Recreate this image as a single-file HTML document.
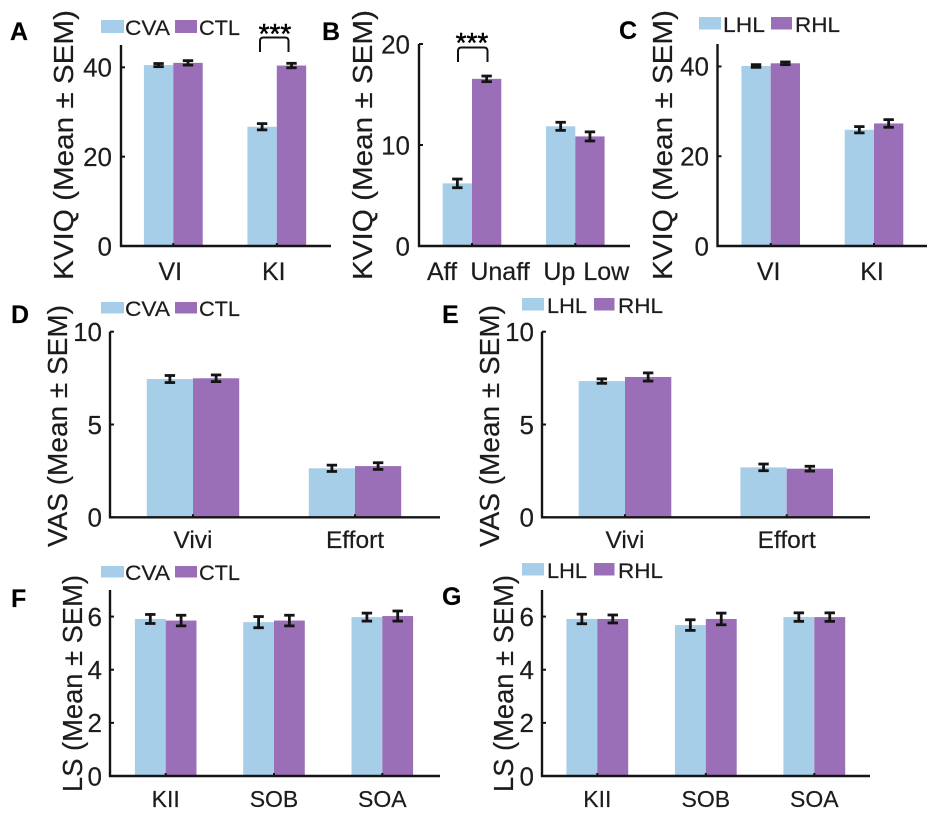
<!DOCTYPE html>
<html lang="en">
<head>
<meta charset="utf-8">
<title>KVIQ, VAS and LS bar charts</title>
<style>
  html, body { margin: 0; padding: 0; background: #fff; }
  svg { display: block; filter: blur(0.35px); }
  text { font-family: "Liberation Sans", Arial, sans-serif; fill: #1c1c1c; stroke: #1c1c1c; stroke-width: 0.2; }
  .panel-letter { font-weight: 700; font-size: 25px; fill: #000; }
  .y-title { font-size: 27.5px; }
  .legend { font-size: 21.5px; }
  .tick { font-size: 25px; }
  .stars { font-size: 28px; fill: #000; stroke: #000; stroke-width: 0.5; text-anchor: middle; }
  .bracket { fill: none; stroke: #111; stroke-width: 2; }
  .swatch-a { fill: #a6cee8; }
  .swatch-b { fill: #9b6fb8; }
</style>
</head>
<body>
<svg id="figure" xmlns="http://www.w3.org/2000/svg" width="935" height="816" viewBox="0 0 935 816">
  <rect width="935" height="816" fill="#fff"/>

  <!-- Panel A -->
  <g id="panel-a">
    <text class="panel-letter" x="10" y="40">A</text>
    <text class="y-title" transform="translate(73 280) rotate(-90)" textLength="270" lengthAdjust="spacingAndGlyphs">KVIQ (Mean ± SEM)</text>
    <rect class="swatch-a" x="101" y="20" width="23" height="13"/>
    <text class="legend" x="125" y="35" textLength="45" lengthAdjust="spacingAndGlyphs">CVA</text>
    <rect class="swatch-b" x="175" y="20" width="22" height="13"/>
    <text class="legend" x="199" y="35" textLength="41" lengthAdjust="spacingAndGlyphs">CTL</text>
    <text class="stars" x="275" y="43">***</text>
    <path class="bracket" d="M260 52 V41 Q260 37.5 263.5 37.5 H285 Q288.5 37.5 288.5 41 V52"/>
  </g>

  <!-- Panel B -->
  <g id="panel-b">
    <text class="panel-letter" x="322" y="40">B</text>
    <text class="y-title" transform="translate(372 280) rotate(-90)" textLength="270" lengthAdjust="spacingAndGlyphs">KVIQ (Mean ± SEM)</text>
    <text class="stars" x="472" y="52">***</text>
    <path class="bracket" d="M458 62 V51 Q458 47.5 461.5 47.5 H484 Q487.5 47.5 487.5 51 V62"/>
  </g>

  <!-- Panel C -->
  <g id="panel-c">
    <text class="panel-letter" x="619" y="39">C</text>
    <text class="y-title" transform="translate(672 280) rotate(-90)" textLength="270" lengthAdjust="spacingAndGlyphs">KVIQ (Mean ± SEM)</text>
    <rect class="swatch-a" x="699" y="17" width="22" height="12.5"/>
    <text class="legend" x="723" y="32" textLength="42" lengthAdjust="spacingAndGlyphs">LHL</text>
    <rect class="swatch-b" x="771" y="17" width="21" height="12.5"/>
    <text class="legend" x="795" y="32" textLength="45" lengthAdjust="spacingAndGlyphs">RHL</text>
  </g>

  <!-- Panel D -->
  <g id="panel-d">
    <text class="panel-letter" x="11" y="323">D</text>
    <text class="y-title" transform="translate(67 547) rotate(-90)" textLength="242" lengthAdjust="spacingAndGlyphs">VAS (Mean ± SEM)</text>
    <rect class="swatch-a" x="101" y="302" width="23" height="11.5"/>
    <text class="legend" x="125" y="316" textLength="45" lengthAdjust="spacingAndGlyphs">CVA</text>
    <rect class="swatch-b" x="175" y="302" width="22" height="11.5"/>
    <text class="legend" x="199" y="316" textLength="41" lengthAdjust="spacingAndGlyphs">CTL</text>
  </g>

  <!-- Panel E -->
  <g id="panel-e">
    <text class="panel-letter" x="442" y="323">E</text>
    <text class="y-title" transform="translate(499 547) rotate(-90)" textLength="242" lengthAdjust="spacingAndGlyphs">VAS (Mean ± SEM)</text>
    <rect class="swatch-a" x="522" y="298" width="22" height="12.5"/>
    <text class="legend" x="547" y="313" textLength="40" lengthAdjust="spacingAndGlyphs">LHL</text>
    <rect class="swatch-b" x="594" y="298" width="20.5" height="12.5"/>
    <text class="legend" x="618" y="313" textLength="45" lengthAdjust="spacingAndGlyphs">RHL</text>
  </g>

  <!-- Panel F -->
  <g id="panel-f">
    <text class="panel-letter" x="11" y="607">F</text>
    <text class="y-title" transform="translate(82 792) rotate(-90)" textLength="217" lengthAdjust="spacingAndGlyphs">LS (Mean ± SEM)</text>
    <rect class="swatch-a" x="101" y="566" width="23" height="11.5"/>
    <text class="legend" x="125" y="580" textLength="45" lengthAdjust="spacingAndGlyphs">CVA</text>
    <rect class="swatch-b" x="175" y="566" width="22" height="11.5"/>
    <text class="legend" x="199" y="580" textLength="41" lengthAdjust="spacingAndGlyphs">CTL</text>
  </g>

  <!-- Panel G -->
  <g id="panel-g">
    <text class="panel-letter" x="442" y="605">G</text>
    <text class="y-title" transform="translate(513 792) rotate(-90)" textLength="217" lengthAdjust="spacingAndGlyphs">LS (Mean ± SEM)</text>
    <rect class="swatch-a" x="522" y="563" width="22" height="12.5"/>
    <text class="legend" x="547" y="578" textLength="40" lengthAdjust="spacingAndGlyphs">LHL</text>
    <rect class="swatch-b" x="594" y="563" width="20.5" height="12.5"/>
    <text class="legend" x="618" y="578" textLength="45" lengthAdjust="spacingAndGlyphs">RHL</text>
  </g>
</svg>

<script>
// ---- Data ----
const aCategories = ['VI', 'KI'];
const aYTicks = [0, 20, 40];
const aFirstValues = [40.5, 26.7];
const aSecondValues = [41.0, 40.4];
const aFirstErrors = [0.35, 0.7];
const aSecondErrors = [0.5, 0.5];

const bCategories = ['Aff', 'Unaff', 'Up', 'Low'];
const bYTicks = [0, 10, 20];
const bFirstValues = [6.2, 11.85];
const bSecondValues = [16.55, 10.85];
const bFirstErrors = [0.43, 0.4];
const bSecondErrors = [0.28, 0.45];

const cCategories = ['VI', 'KI'];
const cYTicks = [0, 20, 40];
const cFirstValues = [40.1, 25.9];
const cSecondValues = [40.7, 27.3];
const cFirstErrors = [0.3, 0.7];
const cSecondErrors = [0.3, 0.85];

const dCategories = ['Vivi', 'Effort'];
const dYTicks = [0, 5, 10];
const dFirstValues = [7.45, 2.64];
const dSecondValues = [7.49, 2.76];
const dFirstErrors = [0.19, 0.17];
const dSecondErrors = [0.18, 0.18];

const eCategories = ['Vivi', 'Effort'];
const eYTicks = [0, 5, 10];
const eFirstValues = [7.34, 2.69];
const eSecondValues = [7.56, 2.62];
const eFirstErrors = [0.12, 0.18];
const eSecondErrors = [0.22, 0.13];

const fCategories = ['KII', 'SOB', 'SOA'];
const fYTicks = [0, 2, 4, 6];
const fFirstValues = [5.91, 5.79, 5.98];
const fSecondValues = [5.85, 5.85, 6.02];
const fFirstErrors = [0.17, 0.21, 0.15];
const fSecondErrors = [0.2, 0.2, 0.19];

const gCategories = ['KII', 'SOB', 'SOA'];
const gYTicks = [0, 2, 4, 6];
const gFirstValues = [5.91, 5.68, 5.98];
const gSecondValues = [5.91, 5.91, 5.98];
const gFirstErrors = [0.18, 0.2, 0.16];
const gSecondErrors = [0.15, 0.22, 0.16];

// ---- Panel wiring and axis geometry ----
const SVG_NS = 'http://www.w3.org/2000/svg';
const COLOR_FIRST = '#a6cee8';
const COLOR_SECOND = '#9b6fb8';
const INK = '#141414';

const panelSpecs = [
  { id: 'a', cats: aCategories, ticks: aYTicks, v1: aFirstValues, v2: aSecondValues, e1: aFirstErrors, e2: aSecondErrors,
    axisX: 121, axisEnd: 331, base: 246, top: 45, yMax: 45, first: 173.3, step: 103.5, half: 29.4,
    tickRight: 112, tickSize: 26, labelSize: 25, labelY: 280, labelShift: -3 },
  { id: 'b', cats: bCategories, ticks: bYTicks, v1: bFirstValues, v2: bSecondValues, e1: bFirstErrors, e2: bSecondErrors,
    axisX: 419, axisEnd: 630, base: 246, top: 44, yMax: 20, first: 472, step: 103.3, half: 29.3,
    tickRight: 410, tickSize: 26, labelSize: 25, labelY: 280, paired: true, labelOffsets: [-30, 28, -16, 31] },
  { id: 'c', cats: cCategories, ticks: cYTicks, v1: cFirstValues, v2: cSecondValues, e1: cFirstErrors, e2: cSecondErrors,
    axisX: 717.5, axisEnd: 927, base: 246, top: 44, yMax: 45, first: 770.7, step: 103.3, half: 29.3,
    tickRight: 709, tickSize: 26, labelSize: 25, labelY: 280, labelShift: -2 },
  { id: 'd', cats: dCategories, ticks: dYTicks, v1: dFirstValues, v2: dSecondValues, e1: dFirstErrors, e2: dSecondErrors,
    axisX: 110, axisEnd: 440, base: 517.3, top: 331.7, yMax: 10, first: 193, step: 162, half: 46.2,
    tickRight: 102, tickSize: 26, labelSize: 24.5, labelY: 548, labelShift: 0 },
  { id: 'e', cats: eCategories, ticks: eYTicks, v1: eFirstValues, v2: eSecondValues, e1: eFirstErrors, e2: eSecondErrors,
    axisX: 542, axisEnd: 870, base: 517.3, top: 331.7, yMax: 10, first: 625, step: 161.7, half: 46.3,
    tickRight: 534, tickSize: 26, labelSize: 24.5, labelY: 548, labelShift: 0 },
  { id: 'f', cats: fCategories, ticks: fYTicks, v1: fFirstValues, v2: fSecondValues, e1: fFirstErrors, e2: fSecondErrors,
    axisX: 110, axisEnd: 440, base: 776, top: 590, yMax: 7, first: 165.7, step: 108.3, half: 30.8,
    tickRight: 102, tickSize: 26, labelSize: 23, labelY: 807, labelShift: 0 },
  { id: 'g', cats: gCategories, ticks: gYTicks, v1: gFirstValues, v2: gSecondValues, e1: gFirstErrors, e2: gSecondErrors,
    axisX: 542, axisEnd: 870, base: 776, top: 590, yMax: 7, first: 597.3, step: 108.5, half: 30.9,
    tickRight: 534, tickSize: 26, labelSize: 23, labelY: 807, labelShift: 0 }
];

function addRect(parent, x, y, w, h, fill, name) {
  const el = document.createElementNS(SVG_NS, 'rect');
  el.setAttribute('x', x);
  el.setAttribute('y', y);
  el.setAttribute('width', w);
  el.setAttribute('height', h);
  el.setAttribute('fill', fill);
  
  
  parent.appendChild(el);
  return el;
}

function addLine(parent, x1, y1, x2, y2, width, name) {
  const el = document.createElementNS(SVG_NS, 'line');
  el.setAttribute('x1', x1);
  el.setAttribute('y1', y1);
  el.setAttribute('x2', x2);
  el.setAttribute('y2', y2);
  el.setAttribute('stroke', INK);
  el.setAttribute('stroke-width', width);
  
  
  parent.appendChild(el);
  return el;
}

function addText(parent, x, y, content, size, anchor, name) {
  const el = document.createElementNS(SVG_NS, 'text');
  el.setAttribute('x', x);
  el.setAttribute('y', y);
  el.setAttribute('font-size', size);
  el.setAttribute('text-anchor', anchor);
  
  
  el.textContent = content;
  parent.appendChild(el);
  return el;
}

function drawErrorBar(parent, cx, value, err, yScale, name) {
  const capHalf = 5.2;
  const hi = yScale(value + err);
  const lo = yScale(value - err);
  addLine(parent, cx, hi, cx, lo, 2.8, name + '-stem');
  addLine(parent, cx - capHalf, hi, cx + capHalf, hi, 2.8, name + '-cap-upper');
  addLine(parent, cx - capHalf, lo, cx + capHalf, lo, 2.8, name + '-cap-lower');
}

function drawPanel(spec) {
  const g = document.getElementById('panel-' + spec.id);
  const yScale = function (v) { return spec.base - (v / spec.yMax) * (spec.base - spec.top); };
  const xScale = function (i) { return spec.first + i * spec.step; };
  const groups = spec.v1.length;

  for (let i = 0; i < groups; i++) {
    const cx = xScale(i);
    const tag = spec.id + '-group-' + (i + 1);
    addRect(g, cx - spec.half, yScale(spec.v1[i]), spec.half, spec.base - yScale(spec.v1[i]), COLOR_FIRST, 'bar-first-' + tag);
    addRect(g, cx, yScale(spec.v2[i]), spec.half, spec.base - yScale(spec.v2[i]), COLOR_SECOND, 'bar-second-' + tag);
  }
  for (let i = 0; i < groups; i++) {
    const cx = xScale(i);
    const tag = spec.id + '-group-' + (i + 1);
    drawErrorBar(g, cx - spec.half / 2, spec.v1[i], spec.e1[i], yScale, 'error-first-' + tag);
    drawErrorBar(g, cx + spec.half / 2, spec.v2[i], spec.e2[i], yScale, 'error-second-' + tag);
    addLine(g, cx, spec.base, cx, spec.base - 3, 2, 'x-tick-' + tag);
  }

  addLine(g, spec.axisX, spec.top, spec.axisX, spec.base + 1, 2.4, 'y-axis-line-' + spec.id);
  addLine(g, spec.axisX - 1, spec.base, spec.axisEnd, spec.base, 2.4, 'x-axis-line-' + spec.id);

  spec.ticks.forEach(function (t) {
    const y = yScale(t);
    addLine(g, spec.axisX, y, spec.axisX + 4, y, 2, 'y-tick-' + spec.id + '-' + t);
    addText(g, spec.tickRight, y + 9.3, String(t), spec.tickSize, 'end', 'y-tick-label-' + spec.id + '-' + t);
  });

  spec.cats.forEach(function (label, i) {
    let x;
    if (spec.paired) {
      x = xScale(Math.floor(i / 2)) + spec.labelOffsets[i];
    } else {
      x = xScale(i) + spec.labelShift;
    }
    addText(g, x, spec.labelY, label, spec.labelSize, 'middle', 'x-tick-label-' + spec.id + '-' + label.toLowerCase());
  });
}

panelSpecs.forEach(drawPanel);
</script>
</body>
</html>
